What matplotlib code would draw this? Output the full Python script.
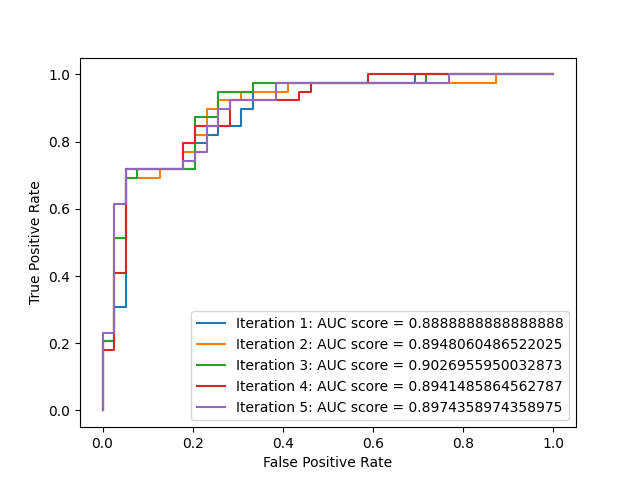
import numpy as np
import matplotlib
matplotlib.use('Agg')
import matplotlib.pyplot as plt

# ROC curve vertices, as counts out of 39 negatives / 39 positives
n_neg = 39
n_pos = 39

fp_1 = [0, 0, 1, 1, 2, 2, 8, 8, 9, 9, 10, 10, 12, 12, 13, 13, 27, 27, 39]
tp_1 = [0, 8, 8, 12, 12, 28, 28, 31, 31, 32, 32, 33, 33, 35, 35, 38, 38, 39, 39]

fp_2 = [0, 0, 1, 1, 2, 2, 5, 5, 7, 7, 8, 8, 9, 9, 10, 10, 12, 12, 16, 16, 34, 34, 39]
tp_2 = [0, 8, 8, 20, 20, 27, 27, 28, 28, 30, 30, 32, 32, 35, 35, 36, 36, 37, 37, 38, 38, 39, 39]

fp_3 = [0, 0, 1, 1, 2, 2, 3, 3, 8, 8, 10, 10, 13, 13, 28, 28, 39]
tp_3 = [0, 8, 8, 20, 20, 27, 27, 28, 28, 34, 34, 37, 37, 38, 38, 39, 39]

fp_4 = [0, 0, 1, 1, 2, 2, 7, 7, 8, 8, 11, 11, 17, 17, 18, 18, 23, 23, 39]
tp_4 = [0, 7, 7, 16, 16, 28, 28, 31, 31, 33, 33, 36, 36, 37, 37, 38, 38, 39, 39]

fp_5 = [0, 0, 1, 1, 2, 2, 7, 7, 8, 8, 9, 9, 10, 10, 11, 11, 15, 15, 30, 30, 39]
tp_5 = [0, 9, 9, 24, 24, 28, 28, 29, 29, 30, 30, 33, 33, 35, 35, 36, 36, 38, 38, 39, 39]

auc_scores = [0.8888888888888888, 0.8948060486522025, 0.9026955950032873,
              0.8941485864562787, 0.8974358974358975]

curves = [(fp_1, tp_1), (fp_2, tp_2), (fp_3, tp_3), (fp_4, tp_4), (fp_5, tp_5)]

fig, ax = plt.subplots(figsize=(6.4, 4.8), dpi=100)

for i, ((fp, tp), auc) in enumerate(zip(curves, auc_scores)):
    fpr = np.array(fp) / n_neg
    tpr = np.array(tp) / n_pos
    ax.plot(fpr, tpr, label=f"Iteration {i + 1}: AUC score = {auc}")

ax.set_xlabel("False Positive Rate")
ax.set_ylabel("True Positive Rate")
ax.legend(loc='lower right')

fig.savefig('out.png')
